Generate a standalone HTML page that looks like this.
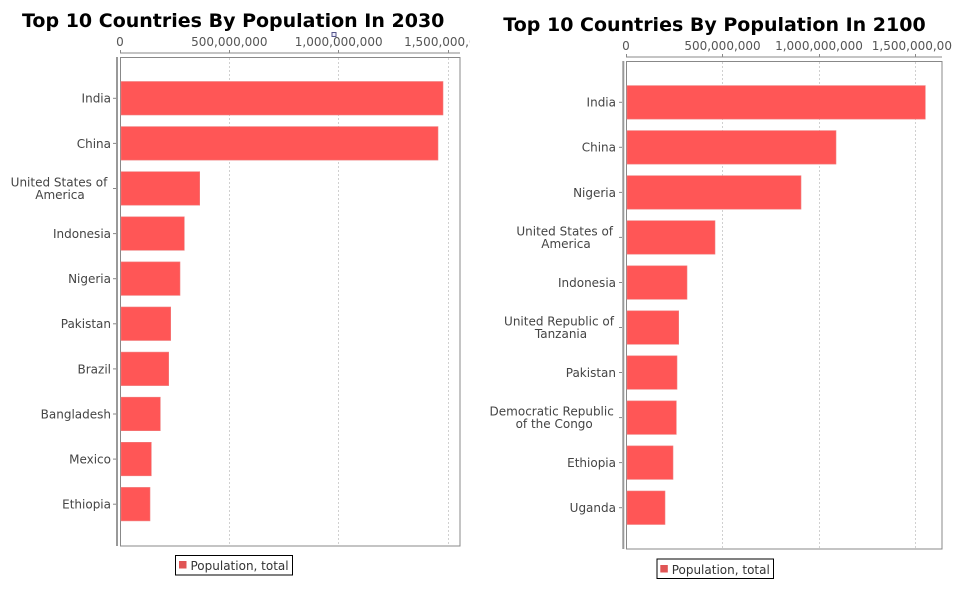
<!DOCTYPE html>
<html>
<head>
<meta charset="utf-8">
<style>
  html,body{margin:0;padding:0;background:#fff;}
  svg{display:block;}
  .t{font-family:"DejaVu Sans","Liberation Sans",sans-serif;}
</style>
</head>
<body>
<svg width="970" height="600" viewBox="0 0 970 600" xmlns="http://www.w3.org/2000/svg">
  <defs>
    <clipPath id="clipL"><rect x="0" y="30" width="470" height="25"/></clipPath>
    <clipPath id="clipR"><rect x="480" y="30" width="472" height="25"/></clipPath>
  </defs>
  <rect width="970" height="600" fill="#fff"/>

  <!-- ============ LEFT CHART ============ -->
  <text class="t" x="22" y="27" font-size="19" font-weight="bold" fill="#000">Top 10 Countries By Population In 2030</text>

  <g class="t" font-size="12" fill="#555" text-anchor="middle" clip-path="url(#clipL)">
    <text x="120" y="46">0</text>
    <text x="229.3" y="46">500,000,000</text>
    <text x="338.7" y="46">1,000,000,000</text>
    <text x="448" y="46">1,500,000,000</text>
  </g>
  <line x1="120" y1="53" x2="460" y2="53" stroke="#888" stroke-width="1"/>
  <g stroke="#888" stroke-width="1">
    <line x1="120.5" y1="50" x2="120.5" y2="53"/>
    <line x1="229.5" y1="50" x2="229.5" y2="53"/>
    <line x1="338.5" y1="50" x2="338.5" y2="53"/>
    <line x1="448.5" y1="50" x2="448.5" y2="53"/>
  </g>
  <rect x="332" y="32.5" width="4" height="4" fill="#eef" stroke="#55558a" stroke-width="1"/>

  <rect x="120.5" y="57.5" width="339.5" height="488.5" fill="#fff" stroke="#888" stroke-width="1"/>
  <g stroke="#d0d0d0" stroke-width="1" stroke-dasharray="2,2">
    <line x1="229.5" y1="58" x2="229.5" y2="546"/>
    <line x1="338.5" y1="58" x2="338.5" y2="546"/>
    <line x1="448.5" y1="58" x2="448.5" y2="546"/>
  </g>
  <line x1="117" y1="57" x2="117" y2="546" stroke="#999" stroke-width="2"/>

  <g fill="#ff5656" stroke="#f08080" stroke-width="0.6">
    <rect x="121" y="81.5" width="322" height="33.5"/>
    <rect x="121" y="126.6" width="317" height="33.5"/>
    <rect x="121" y="171.7" width="78.7" height="33.5"/>
    <rect x="121" y="216.8" width="63.3" height="33.5"/>
    <rect x="121" y="261.9" width="59" height="33.5"/>
    <rect x="121" y="307" width="49.7" height="33.5"/>
    <rect x="121" y="352.1" width="47.7" height="33.5"/>
    <rect x="121" y="397.2" width="39.3" height="33.5"/>
    <rect x="121" y="442.3" width="30.3" height="33.5"/>
    <rect x="121" y="487.4" width="29" height="33.5"/>
  </g>

  <g stroke="#888" stroke-width="1">
    <line x1="113" y1="98.3" x2="116" y2="98.3"/>
    <line x1="113" y1="143.4" x2="116" y2="143.4"/>
    <line x1="113" y1="188.5" x2="116" y2="188.5"/>
    <line x1="113" y1="233.6" x2="116" y2="233.6"/>
    <line x1="113" y1="278.7" x2="116" y2="278.7"/>
    <line x1="113" y1="323.8" x2="116" y2="323.8"/>
    <line x1="113" y1="368.9" x2="116" y2="368.9"/>
    <line x1="113" y1="414" x2="116" y2="414"/>
    <line x1="113" y1="459.1" x2="116" y2="459.1"/>
    <line x1="113" y1="504.2" x2="116" y2="504.2"/>
  </g>

  <g class="t" font-size="12" fill="#444" text-anchor="end">
    <text x="111" y="102.7">India</text>
    <text x="111" y="147.8">China</text>
    <text x="111" y="238">Indonesia</text>
    <text x="111" y="283.1">Nigeria</text>
    <text x="111" y="328.2">Pakistan</text>
    <text x="111" y="373.3">Brazil</text>
    <text x="111" y="418.4">Bangladesh</text>
    <text x="111" y="463.5">Mexico</text>
    <text x="111" y="508.6">Ethiopia</text>
  </g>
  <g class="t" font-size="12" fill="#444" text-anchor="middle">
    <text x="59" y="186.4">United States of</text>
    <text x="60" y="199">America</text>
  </g>

  <rect x="175.5" y="555.5" width="117" height="19.5" fill="#fff" stroke="#000" stroke-width="1"/>
  <rect x="179" y="561" width="7.5" height="7.5" fill="#e05555"/>
  <text class="t" x="190.5" y="569.8" font-size="12" fill="#333">Population, total</text>

  <!-- ============ RIGHT CHART ============ -->
  <text class="t" x="503.3" y="31" font-size="19" font-weight="bold" fill="#000">Top 10 Countries By Population In 2100</text>

  <g class="t" font-size="12" fill="#555" text-anchor="middle" clip-path="url(#clipR)">
    <text x="626" y="50">0</text>
    <text x="722.5" y="50">500,000,000</text>
    <text x="819" y="50">1,000,000,000</text>
    <text x="915.7" y="50">1,500,000,000</text>
  </g>
  <line x1="626" y1="57" x2="942" y2="57" stroke="#888" stroke-width="1"/>
  <g stroke="#888" stroke-width="1">
    <line x1="626.5" y1="54" x2="626.5" y2="57"/>
    <line x1="722.5" y1="54" x2="722.5" y2="57"/>
    <line x1="819.5" y1="54" x2="819.5" y2="57"/>
    <line x1="915.5" y1="54" x2="915.5" y2="57"/>
  </g>

  <rect x="626.5" y="61.5" width="315.5" height="487.5" fill="#fff" stroke="#888" stroke-width="1"/>
  <g stroke="#d0d0d0" stroke-width="1" stroke-dasharray="2,2">
    <line x1="722.5" y1="62" x2="722.5" y2="549"/>
    <line x1="819.5" y1="62" x2="819.5" y2="549"/>
    <line x1="915.5" y1="62" x2="915.5" y2="549"/>
  </g>
  <line x1="623.3" y1="61" x2="623.3" y2="549" stroke="#999" stroke-width="2"/>

  <g fill="#ff5656" stroke="#f08080" stroke-width="0.6">
    <rect x="627" y="85.6" width="298.3" height="33.5"/>
    <rect x="627" y="130.6" width="209" height="33.5"/>
    <rect x="627" y="175.7" width="174" height="33.5"/>
    <rect x="627" y="220.7" width="88" height="33.5"/>
    <rect x="627" y="265.8" width="60" height="33.5"/>
    <rect x="627" y="310.8" width="51.7" height="33.5"/>
    <rect x="627" y="355.8" width="50" height="33.5"/>
    <rect x="627" y="400.9" width="49.3" height="33.5"/>
    <rect x="627" y="445.9" width="46" height="33.5"/>
    <rect x="627" y="491" width="38" height="33.5"/>
  </g>

  <g stroke="#888" stroke-width="1">
    <line x1="619" y1="102.3" x2="622" y2="102.3"/>
    <line x1="619" y1="147.3" x2="622" y2="147.3"/>
    <line x1="619" y1="192.4" x2="622" y2="192.4"/>
    <line x1="619" y1="237.4" x2="622" y2="237.4"/>
    <line x1="619" y1="282.5" x2="622" y2="282.5"/>
    <line x1="619" y1="327.5" x2="622" y2="327.5"/>
    <line x1="619" y1="372.5" x2="622" y2="372.5"/>
    <line x1="619" y1="417.6" x2="622" y2="417.6"/>
    <line x1="619" y1="462.6" x2="622" y2="462.6"/>
    <line x1="619" y1="507.7" x2="622" y2="507.7"/>
  </g>

  <g class="t" font-size="12" fill="#444" text-anchor="end">
    <text x="616" y="106.7">India</text>
    <text x="616" y="151.7">China</text>
    <text x="616" y="196.8">Nigeria</text>
    <text x="616" y="286.9">Indonesia</text>
    <text x="616" y="376.9">Pakistan</text>
    <text x="616" y="467">Ethiopia</text>
    <text x="616" y="512.1">Uganda</text>
  </g>
  <g class="t" font-size="12" fill="#444" text-anchor="middle">
    <text x="564.7" y="235.4">United States of</text>
    <text x="566" y="248">America</text>
    <text x="559" y="325.5">United Republic of</text>
    <text x="561" y="338.1">Tanzania</text>
    <text x="551.7" y="415.6">Democratic Republic</text>
    <text x="554.2" y="428.2">of the Congo</text>
  </g>

  <rect x="657" y="559" width="116.5" height="19.5" fill="#fff" stroke="#000" stroke-width="1"/>
  <rect x="660.3" y="565" width="7.5" height="7.5" fill="#e05555"/>
  <text class="t" x="671.7" y="573.8" font-size="12" fill="#333">Population, total</text>
</svg>
</body>
</html>
